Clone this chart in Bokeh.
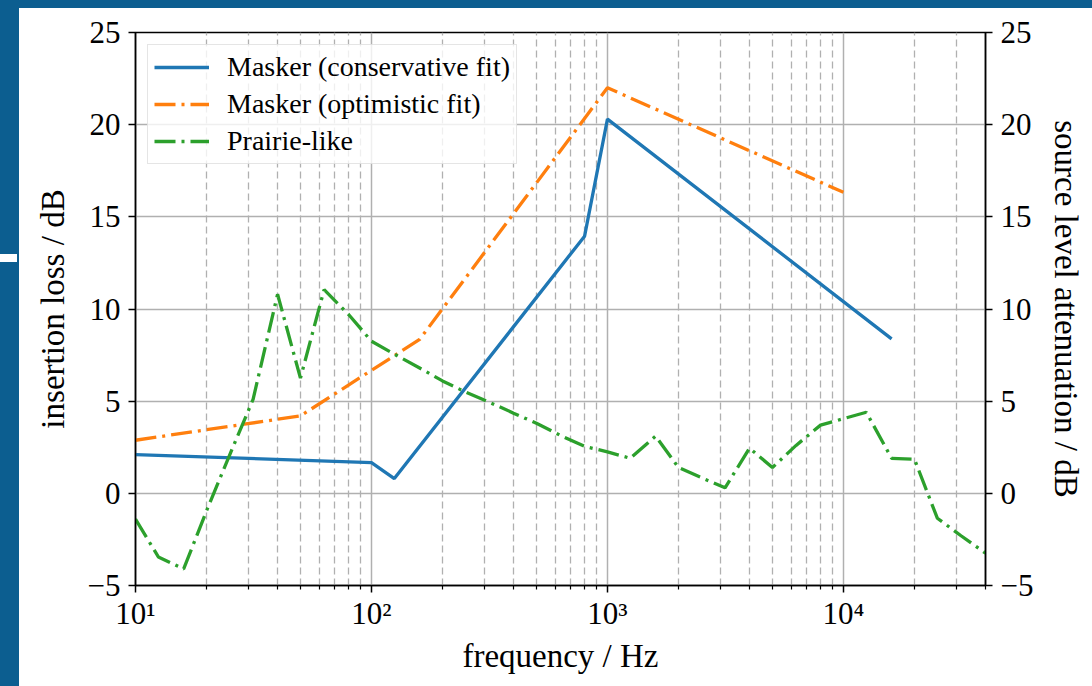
from bokeh.plotting import figure
from bokeh.models import LinearAxis, FixedTicker, Legend, LegendItem
from bokeh.embed import file_html
from bokeh.resources import INLINE

# ---- data ----
freq_cons = [10, 100, 125, 800, 1000, 16000]
il_cons = [2.1, 1.67, 0.8, 13.95, 20.3, 8.38]

freq_opt = [10, 50, 160, 1000, 10000]
il_opt = [2.88, 4.2, 8.35, 22.0, 16.33]

freq_prairie = [10, 12.5, 16, 20, 25, 31.5, 40, 50, 63, 80, 100, 125, 160, 200,
                250, 315, 400, 500, 630, 800, 1000, 1250, 1600, 2000, 2500, 3150,
                4000, 5000, 6300, 8000, 10000, 12500, 16000, 20000, 25000, 31500, 40000]
att_prairie = [-1.4, -3.45, -4.1, -0.95, 2.05, 5.1, 10.8, 6.25, 11.05, 9.7, 8.25,
               7.55, 6.8, 6.1, 5.5, 4.95, 4.35, 3.8, 3.15, 2.55, 2.25, 1.9, 3.1,
               1.4, 0.85, 0.3, 2.45, 1.4, 2.6, 3.7, 4.05, 4.4, 1.9, 1.85, -1.35,
               -2.3, -3.25]

x_major = [10, 100, 1000, 10000]
x_minor = [m * d for d in [10, 100, 1000, 10000] for m in range(2, 10) if m * d <= 40000]
x_labels = {10: "10¹", 100: "10²", 1000: "10³", 10000: "10⁴"}
y_ticks = [-5, 0, 5, 10, 15, 20, 25]
y_labels = {-5: "−5"}

series_names = ["Masker (conservative fit)", "Masker (optimistic fit)", "Prairie-like"]
colors = ["#1f77b4", "#ff7f0e", "#2ca02c"]

FONT = "Liberation Serif"
BAND = "#0c5e90"

p = figure(width=1092, height=686, x_axis_type="log",
           x_range=(10, 40000), y_range=(-5, 25),
           output_backend="svg", toolbar_location=None,
           min_border_left=135, min_border_right=107,
           min_border_top=32, min_border_bottom=101)

p.background_fill_color = "white"
p.border_fill_alpha = 0
p.styles = {
    "background": (
        "linear-gradient(#ffffff, #ffffff) 0 254px / 17px 8px no-repeat, "
        f"linear-gradient({BAND}, {BAND}) 0 0 / 19px 100% no-repeat, "
        f"linear-gradient({BAND}, {BAND}) 0 0 / 100% 8px no-repeat, "
        "#ffffff"
    )
}
p.outline_line_color = "black"
p.outline_line_width = 1.5

xticker = FixedTicker(ticks=x_major, minor_ticks=x_minor)
yticker = FixedTicker(ticks=y_ticks)

p.xaxis.ticker = xticker
p.yaxis.ticker = yticker
p.xaxis.major_label_overrides = x_labels
p.yaxis.major_label_overrides = y_labels

p.xgrid.ticker = xticker
p.ygrid.ticker = yticker
p.xgrid.grid_line_color = "#b0b0b0"
p.xgrid.grid_line_width = 1.5
p.xgrid.minor_grid_line_color = "#b0b0b0"
p.xgrid.minor_grid_line_width = 1.3
p.xgrid.minor_grid_line_dash = "7 4"
p.ygrid.grid_line_color = "#b0b0b0"
p.ygrid.grid_line_width = 1.5

right_axis = LinearAxis(ticker=yticker, major_label_overrides=y_labels)
p.add_layout(right_axis, "right")

for ax in [p.xaxis[0], p.yaxis[0], right_axis]:
    ax.axis_line_color = "black"
    ax.axis_line_width = 1.5
    ax.major_tick_line_color = "black"
    ax.major_tick_line_width = 1.5
    ax.major_tick_out = 7
    ax.major_tick_in = 0
    ax.minor_tick_line_color = "black"
    ax.minor_tick_line_width = 1.2
    ax.minor_tick_out = 4
    ax.minor_tick_in = 0
    ax.major_label_text_font = FONT
    ax.major_label_text_font_size = "31px"
    ax.major_label_text_color = "black"
    ax.axis_label_text_font = FONT
    ax.axis_label_text_font_size = "33px"
    ax.axis_label_text_font_style = "normal"
    ax.axis_label_text_color = "black"

p.yaxis[0].minor_tick_out = 0
right_axis.minor_tick_out = 0

p.xaxis.axis_label = "frequency / Hz"
p.yaxis[0].axis_label = "insertion loss / dB"
right_axis.axis_label = "source level attenuation / dB"
p.xaxis.major_label_standoff = 3
p.xaxis.axis_label_standoff = 4
p.yaxis[0].major_label_standoff = 8
p.yaxis[0].axis_label_standoff = 14
right_axis.major_label_standoff = 8
right_axis.axis_label_standoff = 12

r1 = p.line(freq_cons, il_cons, line_color=colors[0], line_width=3.3)
r2 = p.line(freq_opt, il_opt, line_color=colors[1], line_width=3.3, line_dash="21 6 3 6")
r3 = p.line(freq_prairie, att_prairie, line_color=colors[2], line_width=3.3, line_dash="21 6 3 6")

legend = Legend(items=[LegendItem(label=series_names[0], renderers=[r1]),
                       LegendItem(label=series_names[1], renderers=[r2]),
                       LegendItem(label=series_names[2], renderers=[r3])],
                location="top_left")
legend.margin = 12
legend.padding = 6
legend.spacing = 5
legend.glyph_width = 55
legend.glyph_height = 32
legend.label_height = 32
legend.label_standoff = 18
legend.label_text_font = FONT
legend.label_text_font_size = "28px"
legend.label_text_color = "black"
legend.border_line_color = "#cccccc"
legend.border_line_width = 1.5
legend.background_fill_color = "white"
legend.background_fill_alpha = 0.8
p.add_layout(legend)

open("out.html", "w").write(file_html(p, INLINE))
